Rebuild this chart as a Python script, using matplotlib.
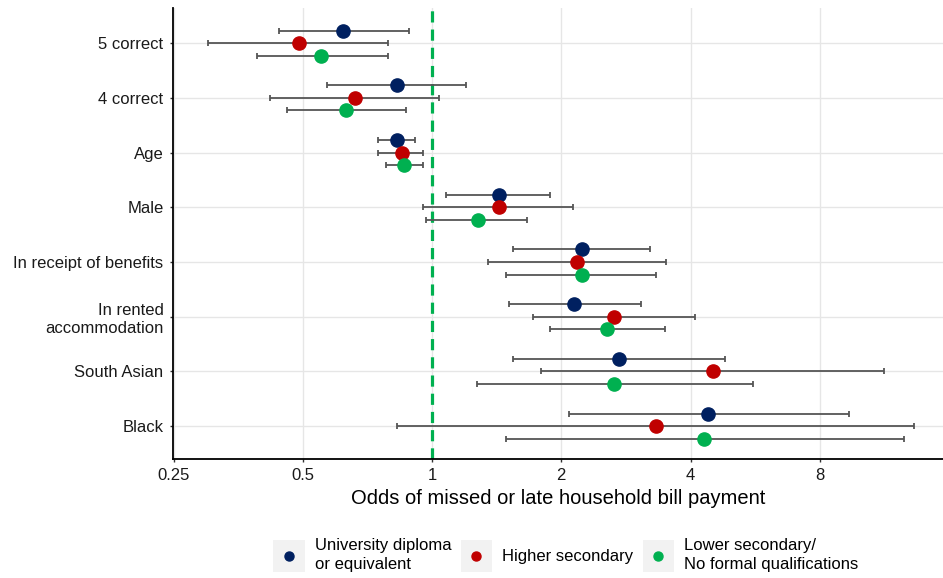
import matplotlib
matplotlib.use("Agg")
import matplotlib.pyplot as plt
from matplotlib.lines import Line2D
from matplotlib.patches import Rectangle
from matplotlib.legend_handler import HandlerBase

plt.rcParams['font.family'] = ['Liberation Sans', 'DejaVu Sans']

# predictors, top to bottom
categories = ["5 correct", "4 correct", "Age", "Male", "In receipt of benefits",
              "In rented\naccommodation", "South Asian", "Black"]

series = ["University diploma\nor equivalent", "Higher secondary",
          "Lower secondary/\nNo formal qualifications"]
colors = ["#002060", "#C00000", "#00B050"]

# odds ratios and 95% CI, one list per education group
uni_or = [0.62, 0.83, 0.83, 1.43, 2.24, 2.14, 2.72, 4.40]
uni_lo = [0.44, 0.57, 0.75, 1.08, 1.54, 1.51, 1.54, 2.08]
uni_hi = [0.885, 1.20, 0.91, 1.88, 3.22, 3.06, 4.82, 9.38]

high_or = [0.49, 0.66, 0.85, 1.43, 2.18, 2.66, 4.51, 3.33]
high_lo = [0.30, 0.42, 0.75, 0.95, 1.35, 1.72, 1.79, 0.83]
high_hi = [0.79, 1.04, 0.95, 2.13, 3.51, 4.09, 11.3, 13.3]

low_or = [0.55, 0.63, 0.86, 1.28, 2.24, 2.56, 2.66, 4.30]
low_lo = [0.39, 0.46, 0.78, 0.97, 1.49, 1.88, 1.27, 1.49]
low_hi = [0.79, 0.87, 0.95, 1.66, 3.33, 3.48, 5.59, 12.6]

ors = [uni_or, high_or, low_or]
los = [uni_lo, high_lo, low_lo]
his = [uni_hi, high_hi, low_hi]

xticks = [0.25, 0.5, 1, 2, 4, 8]
xtick_labels = ["0.25", "0.5", "1", "2", "4", "8"]


class KeyHandler(HandlerBase):
    # ggplot style key: grey square with a dot in the middle
    def create_artists(self, legend, orig_handle, xdescent, ydescent,
                       width, height, fontsize, trans):
        bg = Rectangle((-xdescent, -ydescent), width, height,
                       facecolor="#F2F2F2", edgecolor="none", transform=trans)
        dot = Line2D([-xdescent + width / 2], [-ydescent + height / 2],
                     marker="o", ms=6.5, linestyle="none",
                     color=orig_handle.get_color(), transform=trans)
        return [bg, dot]


fig = plt.figure(figsize=(9.43, 5.78), dpi=100)
ax = fig.add_axes([0.183, 0.206, 0.817, 0.780])

ypos = list(range(len(categories)))
offsets = [-0.23, 0.0, 0.23]

handles = []
for k in range(3):
    y = [p + offsets[k] for p in ypos]
    err = [[o - l for o, l in zip(ors[k], los[k])],
           [h - o for o, h in zip(ors[k], his[k])]]
    ax.errorbar(ors[k], y, xerr=err, fmt="none", ecolor="#555555",
                elinewidth=1.3, capsize=2, capthick=1.3, zorder=3)
    pts, = ax.plot(ors[k], y, "o", color=colors[k], ms=9.5, zorder=4,
                   label=series[k])
    handles.append(pts)

ax.axvline(1, color="#00B050", lw=2.3, linestyle=(0, (3.5, 2.2)), zorder=2)

ax.set_xscale("log", base=2)
ax.set_xticks(xticks)
ax.set_xticklabels(xtick_labels)
ax.minorticks_off()
ax.set_xlim(0.2485, 15.5)
ax.set_yticks(ypos)
ax.set_yticklabels(categories)
ax.set_ylim(7.6, -0.64)

ax.grid(True, color="#E6E6E6", lw=1.0, zorder=0)
ax.set_axisbelow(True)
for s in ["top", "right"]:
    ax.spines[s].set_visible(False)
for s in ["left", "bottom"]:
    ax.spines[s].set_color("black")
    ax.spines[s].set_linewidth(1.3)
ax.tick_params(axis="both", labelsize=12, length=2.5, width=1.0,
               color="#333333", labelcolor="#1a1a1a", pad=4)

ax.set_xlabel("Odds of missed or late household bill payment", fontsize=14.5,
              color="black", labelpad=4)

leg = fig.legend(handles=handles, labels=series, loc="center",
                 bbox_to_anchor=(0.600, 0.040), ncol=3, frameon=False,
                 fontsize=12, handler_map={Line2D: KeyHandler()},
                 handlelength=1.9, handleheight=2.6, handletextpad=0.6,
                 columnspacing=0.55, borderpad=0)
for t in leg.get_texts():
    t.set_linespacing(1.3)

fig.savefig("out.png", dpi=100)
